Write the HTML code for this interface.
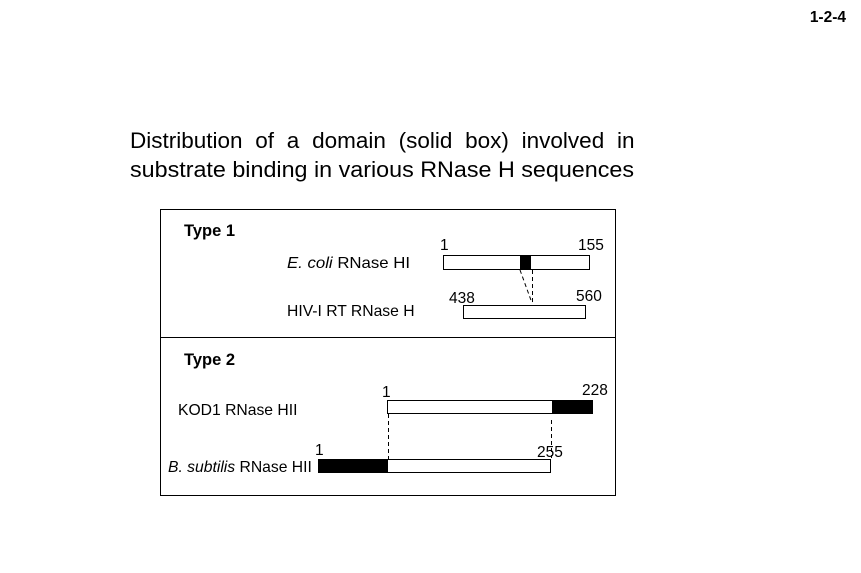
<!DOCTYPE html>
<html><head><style>body{margin:0;background:#fff}svg{display:block}</style></head><body>
<svg width="861" height="573" xmlns="http://www.w3.org/2000/svg" font-family="Liberation Sans, Arial, sans-serif">
<text x="846" y="22" font-size="15.5" font-weight="bold" text-anchor="end">1-2-4</text>
<text x="130" y="148" font-size="22.5" word-spacing="6.5">Distribution of a domain (solid box) involved in</text>
<text x="130" y="177" font-size="22.5" textLength="504" lengthAdjust="spacingAndGlyphs">substrate binding in various RNase H sequences</text>
<rect x="160.5" y="209.5" width="455" height="286" fill="none" stroke="#000"/>
<line x1="160" y1="337.5" x2="615" y2="337.5" stroke="#000"/>
<text x="184" y="236" font-size="16.5" font-weight="bold">Type 1</text>
<text x="440" y="250" font-size="15.5">1</text>
<text x="578" y="250" font-size="15.5">155</text>
<text x="287" y="268" font-size="15.7" textLength="123" lengthAdjust="spacingAndGlyphs"><tspan font-style="italic">E. coli</tspan> RNase HI</text>
<rect x="443.5" y="255.5" width="146" height="14" fill="#fff" stroke="#000"/>
<rect x="520" y="255.5" width="11" height="14" fill="#000"/>
<line x1="520" y1="270" x2="532" y2="303" stroke="#000" stroke-dasharray="4,3"/>
<line x1="532.5" y1="270" x2="532.5" y2="303" stroke="#000" stroke-dasharray="4,3"/>
<text x="449" y="303" font-size="15.5">438</text>
<text x="576" y="301" font-size="15.5">560</text>
<text x="287" y="316" font-size="15.7">HIV-I RT RNase H</text>
<rect x="463.5" y="305.5" width="122" height="13" fill="#fff" stroke="#000"/>
<text x="184" y="365" font-size="16.5" font-weight="bold">Type  2</text>
<text x="382" y="397" font-size="15.5">1</text>
<text x="582" y="395" font-size="15.5">228</text>
<text x="178" y="415" font-size="15.7">KOD1 RNase HII</text>
<rect x="387.5" y="400.5" width="205" height="13" fill="#fff" stroke="#000"/>
<rect x="552" y="400" width="41" height="14" fill="#000"/>
<line x1="388.5" y1="414" x2="388.5" y2="459" stroke="#000" stroke-dasharray="4,3"/>
<line x1="551.5" y1="420" x2="551.5" y2="458" stroke="#000" stroke-dasharray="4,3"/>
<text x="315" y="455" font-size="15.5">1</text>
<text x="537" y="457" font-size="15.5">255</text>
<text x="168" y="472" font-size="15.7"><tspan font-style="italic">B. subtilis</tspan> RNase HII</text>
<rect x="318.5" y="459.5" width="232" height="13" fill="#fff" stroke="#000"/>
<rect x="318" y="459" width="70" height="14" fill="#000"/>
</svg>
</body></html>
